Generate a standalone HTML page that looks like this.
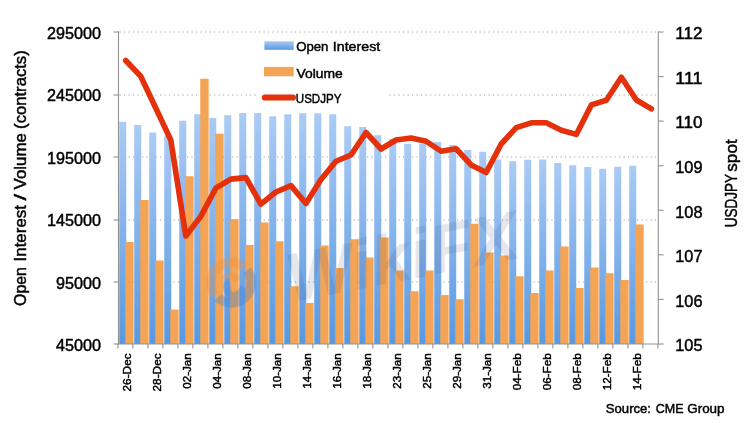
<!DOCTYPE html>
<html lang="en"><head><meta charset="utf-8"><title>USDJPY Open Interest / Volume</title>
<style>html,body{margin:0;padding:0;background:#fff;}body{width:744px;height:423px;overflow:hidden;}svg{display:block;}text{font-family:"Liberation Sans",sans-serif;fill:#000;stroke:#000;stroke-width:0.45px;}</style></head><body>
<svg width="744" height="423" viewBox="0 0 744 423">
<defs><linearGradient id="bg" x1="0" y1="0" x2="0" y2="1"><stop offset="0" stop-color="#aacbf5"/><stop offset="1" stop-color="#5898e0"/></linearGradient>
<filter id="soft" x="-5%" y="-5%" width="110%" height="110%"><feGaussianBlur stdDeviation="0.45"/></filter></defs>
<rect width="744" height="423" fill="#fff"/>
<line x1="119.5" x2="657.6" y1="32.0" y2="32.0" stroke="#a0a0a0" stroke-width="1" stroke-dasharray="1.2 3.3"/>
<line x1="119.5" x2="657.6" y1="95.0" y2="95.0" stroke="#a0a0a0" stroke-width="1" stroke-dasharray="1.2 3.3"/>
<line x1="119.5" x2="657.6" y1="157.0" y2="157.0" stroke="#a0a0a0" stroke-width="1" stroke-dasharray="1.2 3.3"/>
<line x1="119.5" x2="657.6" y1="220.0" y2="220.0" stroke="#a0a0a0" stroke-width="1" stroke-dasharray="1.2 3.3"/>
<line x1="119.5" x2="657.6" y1="282.0" y2="282.0" stroke="#a0a0a0" stroke-width="1" stroke-dasharray="1.2 3.3"/>
<g filter="url(#soft)">
<rect x="119.25" y="121.75" width="7.0" height="222.25" fill="url(#bg)"/>
<rect x="134.25" y="125.00" width="7.0" height="219.00" fill="url(#bg)"/>
<rect x="149.25" y="132.50" width="7.0" height="211.50" fill="url(#bg)"/>
<rect x="164.25" y="135.50" width="7.0" height="208.50" fill="url(#bg)"/>
<rect x="179.25" y="120.75" width="7.0" height="223.25" fill="url(#bg)"/>
<rect x="194.25" y="114.25" width="7.0" height="229.75" fill="url(#bg)"/>
<rect x="209.25" y="118.00" width="7.0" height="226.00" fill="url(#bg)"/>
<rect x="224.25" y="115.25" width="7.0" height="228.75" fill="url(#bg)"/>
<rect x="239.25" y="113.00" width="7.0" height="231.00" fill="url(#bg)"/>
<rect x="254.25" y="113.00" width="7.0" height="231.00" fill="url(#bg)"/>
<rect x="269.25" y="116.25" width="7.0" height="227.75" fill="url(#bg)"/>
<rect x="284.25" y="114.25" width="7.0" height="229.75" fill="url(#bg)"/>
<rect x="299.25" y="113.25" width="7.0" height="230.75" fill="url(#bg)"/>
<rect x="314.25" y="113.25" width="7.0" height="230.75" fill="url(#bg)"/>
<rect x="329.25" y="114.25" width="7.0" height="229.75" fill="url(#bg)"/>
<rect x="344.25" y="126.25" width="7.0" height="217.75" fill="url(#bg)"/>
<rect x="359.25" y="127.00" width="7.0" height="217.00" fill="url(#bg)"/>
<rect x="374.25" y="135.25" width="7.0" height="208.75" fill="url(#bg)"/>
<rect x="389.25" y="139.00" width="7.0" height="205.00" fill="url(#bg)"/>
<rect x="404.25" y="143.75" width="7.0" height="200.25" fill="url(#bg)"/>
<rect x="419.25" y="143.75" width="7.0" height="200.25" fill="url(#bg)"/>
<rect x="434.25" y="142.00" width="7.0" height="202.00" fill="url(#bg)"/>
<rect x="449.25" y="145.00" width="7.0" height="199.00" fill="url(#bg)"/>
<rect x="464.25" y="150.00" width="7.0" height="194.00" fill="url(#bg)"/>
<rect x="479.25" y="151.75" width="7.0" height="192.25" fill="url(#bg)"/>
<rect x="494.25" y="159.50" width="7.0" height="184.50" fill="url(#bg)"/>
<rect x="509.25" y="161.25" width="7.0" height="182.75" fill="url(#bg)"/>
<rect x="524.25" y="159.75" width="7.0" height="184.25" fill="url(#bg)"/>
<rect x="539.25" y="159.50" width="7.0" height="184.50" fill="url(#bg)"/>
<rect x="554.25" y="163.00" width="7.0" height="181.00" fill="url(#bg)"/>
<rect x="569.25" y="165.25" width="7.0" height="178.75" fill="url(#bg)"/>
<rect x="584.25" y="167.00" width="7.0" height="177.00" fill="url(#bg)"/>
<rect x="599.25" y="168.75" width="7.0" height="175.25" fill="url(#bg)"/>
<rect x="614.25" y="166.75" width="7.0" height="177.25" fill="url(#bg)"/>
<rect x="629.25" y="165.75" width="7.0" height="178.25" fill="url(#bg)"/>
<rect x="125.25" y="242.00" width="8.4" height="102.00" fill="#f4a455"/>
<rect x="140.25" y="200.00" width="8.4" height="144.00" fill="#f4a455"/>
<rect x="155.25" y="260.50" width="8.4" height="83.50" fill="#f4a455"/>
<rect x="170.25" y="309.50" width="8.4" height="34.50" fill="#f4a455"/>
<rect x="185.25" y="176.25" width="8.4" height="167.75" fill="#f4a455"/>
<rect x="200.25" y="78.75" width="8.4" height="265.25" fill="#f4a455"/>
<rect x="215.25" y="133.75" width="8.4" height="210.25" fill="#f4a455"/>
<rect x="230.25" y="219.25" width="8.4" height="124.75" fill="#f4a455"/>
<rect x="245.25" y="245.00" width="8.4" height="99.00" fill="#f4a455"/>
<rect x="260.25" y="222.50" width="8.4" height="121.50" fill="#f4a455"/>
<rect x="275.25" y="241.25" width="8.4" height="102.75" fill="#f4a455"/>
<rect x="290.25" y="286.25" width="8.4" height="57.75" fill="#f4a455"/>
<rect x="305.25" y="303.00" width="8.4" height="41.00" fill="#f4a455"/>
<rect x="320.25" y="245.50" width="8.4" height="98.50" fill="#f4a455"/>
<rect x="335.25" y="268.00" width="8.4" height="76.00" fill="#f4a455"/>
<rect x="350.25" y="239.25" width="8.4" height="104.75" fill="#f4a455"/>
<rect x="365.25" y="257.50" width="8.4" height="86.50" fill="#f4a455"/>
<rect x="380.25" y="237.50" width="8.4" height="106.50" fill="#f4a455"/>
<rect x="395.25" y="270.50" width="8.4" height="73.50" fill="#f4a455"/>
<rect x="410.25" y="291.25" width="8.4" height="52.75" fill="#f4a455"/>
<rect x="425.25" y="270.50" width="8.4" height="73.50" fill="#f4a455"/>
<rect x="440.25" y="295.00" width="8.4" height="49.00" fill="#f4a455"/>
<rect x="455.25" y="299.25" width="8.4" height="44.75" fill="#f4a455"/>
<rect x="470.25" y="223.75" width="8.4" height="120.25" fill="#f4a455"/>
<rect x="485.25" y="252.50" width="8.4" height="91.50" fill="#f4a455"/>
<rect x="500.25" y="255.50" width="8.4" height="88.50" fill="#f4a455"/>
<rect x="515.25" y="276.25" width="8.4" height="67.75" fill="#f4a455"/>
<rect x="530.25" y="293.00" width="8.4" height="51.00" fill="#f4a455"/>
<rect x="545.25" y="270.50" width="8.4" height="73.50" fill="#f4a455"/>
<rect x="560.25" y="246.50" width="8.4" height="97.50" fill="#f4a455"/>
<rect x="575.25" y="288.00" width="8.4" height="56.00" fill="#f4a455"/>
<rect x="590.25" y="267.50" width="8.4" height="76.50" fill="#f4a455"/>
<rect x="605.25" y="273.25" width="8.4" height="70.75" fill="#f4a455"/>
<rect x="620.25" y="280.00" width="8.4" height="64.00" fill="#f4a455"/>
<rect x="635.25" y="224.50" width="8.4" height="119.50" fill="#f4a455"/>
</g>
<g transform="translate(231,282.5) rotate(-11)"><g opacity="0.36" filter="url(#soft)"><path d="M-22.5,11 A25,25 0 0 1 20,-15 L12,-9.5 A15.5,15.5 0 0 0 -14,7 Z" fill="#f0923c"/><path d="M22.5,-11 A25,25 0 0 1 -20,15 L-12,9.5 A15.5,15.5 0 0 0 14,-7 Z" fill="#3f7fd0"/><path d="M-9,-6 C-2,-14 9,-10 10,-1 L3,0 C2,-4 -2,-5 -4,-2 Z" fill="#f0923c"/><path d="M-6,14 C-12,4 -8,-3 -2,-5 L-1,9 C2,11 7,9 9,4 L13,9 C8,17 -1,18 -6,14 Z" fill="#3f7fd0"/></g><text x="55" y="31" font-size="69" font-weight="bold" font-style="italic" style="fill:#4a5070;stroke:none" textLength="236" lengthAdjust="spacingAndGlyphs" opacity="0.13">WikiFX</text></g>
<g stroke="#929292" stroke-width="1.1" fill="none">
<line x1="118.5" x2="118.5" y1="31.3" y2="344.6"/>
<line x1="658.3" x2="658.3" y1="31.3" y2="344.6"/>
<line x1="117.9" x2="658.8" y1="344" y2="344"/>
<line x1="113.5" x2="118.5" y1="32.0" y2="32.0"/>
<line x1="113.5" x2="118.5" y1="95.0" y2="95.0"/>
<line x1="113.5" x2="118.5" y1="157.0" y2="157.0"/>
<line x1="113.5" x2="118.5" y1="220.0" y2="220.0"/>
<line x1="113.5" x2="118.5" y1="282.0" y2="282.0"/>
<line x1="113.5" x2="118.5" y1="344.0" y2="344.0"/>
<line x1="658.3" x2="663.6" y1="32.0" y2="32.0"/>
<line x1="658.3" x2="663.6" y1="76.6" y2="76.6"/>
<line x1="658.3" x2="663.6" y1="121.1" y2="121.1"/>
<line x1="658.3" x2="663.6" y1="165.7" y2="165.7"/>
<line x1="658.3" x2="663.6" y1="210.3" y2="210.3"/>
<line x1="658.3" x2="663.6" y1="254.8" y2="254.8"/>
<line x1="658.3" x2="663.6" y1="299.4" y2="299.4"/>
<line x1="658.3" x2="663.6" y1="344.0" y2="344.0"/>
<line x1="117.90" x2="117.90" y1="344" y2="348.6"/>
<line x1="132.90" x2="132.90" y1="344" y2="348.6"/>
<line x1="147.90" x2="147.90" y1="344" y2="348.6"/>
<line x1="162.90" x2="162.90" y1="344" y2="348.6"/>
<line x1="177.90" x2="177.90" y1="344" y2="348.6"/>
<line x1="192.90" x2="192.90" y1="344" y2="348.6"/>
<line x1="207.90" x2="207.90" y1="344" y2="348.6"/>
<line x1="222.90" x2="222.90" y1="344" y2="348.6"/>
<line x1="237.90" x2="237.90" y1="344" y2="348.6"/>
<line x1="252.90" x2="252.90" y1="344" y2="348.6"/>
<line x1="267.90" x2="267.90" y1="344" y2="348.6"/>
<line x1="282.90" x2="282.90" y1="344" y2="348.6"/>
<line x1="297.90" x2="297.90" y1="344" y2="348.6"/>
<line x1="312.90" x2="312.90" y1="344" y2="348.6"/>
<line x1="327.90" x2="327.90" y1="344" y2="348.6"/>
<line x1="342.90" x2="342.90" y1="344" y2="348.6"/>
<line x1="357.90" x2="357.90" y1="344" y2="348.6"/>
<line x1="372.90" x2="372.90" y1="344" y2="348.6"/>
<line x1="387.90" x2="387.90" y1="344" y2="348.6"/>
<line x1="402.90" x2="402.90" y1="344" y2="348.6"/>
<line x1="417.90" x2="417.90" y1="344" y2="348.6"/>
<line x1="432.90" x2="432.90" y1="344" y2="348.6"/>
<line x1="447.90" x2="447.90" y1="344" y2="348.6"/>
<line x1="462.90" x2="462.90" y1="344" y2="348.6"/>
<line x1="477.90" x2="477.90" y1="344" y2="348.6"/>
<line x1="492.90" x2="492.90" y1="344" y2="348.6"/>
<line x1="507.90" x2="507.90" y1="344" y2="348.6"/>
<line x1="522.90" x2="522.90" y1="344" y2="348.6"/>
<line x1="537.90" x2="537.90" y1="344" y2="348.6"/>
<line x1="552.90" x2="552.90" y1="344" y2="348.6"/>
<line x1="567.90" x2="567.90" y1="344" y2="348.6"/>
<line x1="582.90" x2="582.90" y1="344" y2="348.6"/>
<line x1="597.90" x2="597.90" y1="344" y2="348.6"/>
<line x1="612.90" x2="612.90" y1="344" y2="348.6"/>
<line x1="627.90" x2="627.90" y1="344" y2="348.6"/>
<line x1="642.90" x2="642.90" y1="344" y2="348.6"/>
<line x1="657.90" x2="657.90" y1="344" y2="348.6"/>
</g>
<rect x="258" y="34" width="130" height="75" fill="#fff"/>
<rect x="264.4" y="41.3" width="29.3" height="8.5" fill="url(#bg)"/>
<rect x="264" y="66.9" width="29.7" height="9.4" fill="#f4a455"/>
<line x1="264.9" x2="292.9" y1="97.5" y2="97.5" stroke="#e5300c" stroke-width="6.2" stroke-linecap="round"/>
<text x="296.2" y="51.4" font-size="13" textLength="32.2" lengthAdjust="spacingAndGlyphs">Open</text>
<text x="332.8" y="51.4" font-size="13" textLength="47.4" lengthAdjust="spacingAndGlyphs">Interest</text>
<text x="296.4" y="77.6" font-size="13" textLength="46.4" lengthAdjust="spacingAndGlyphs">Volume</text>
<text x="295.8" y="103.3" font-size="13" textLength="45.6" lengthAdjust="spacingAndGlyphs">USDJPY</text>
<polyline points="125.70,60.50 140.72,76.25 155.74,108.00 170.76,140.00 185.78,236.00 200.80,216.40 215.82,188.20 230.84,179.10 245.86,177.60 260.88,204.10 275.90,192.00 290.92,185.60 305.94,203.50 320.96,179.50 335.98,161.25 351.00,155.00 366.02,132.50 381.04,149.00 396.06,140.00 411.08,138.00 426.10,141.25 441.12,151.25 456.14,148.75 471.16,165.00 486.18,172.50 501.20,144.00 516.22,127.70 531.24,122.80 546.26,122.80 561.28,130.20 576.30,134.40 591.32,104.90 606.34,100.30 621.36,77.30 636.38,100.00 651.40,108.80" fill="none" stroke="#e5300c" stroke-width="5.6" stroke-linejoin="round" stroke-linecap="round"/>
<text x="47.1" y="39.40" font-size="16.1" textLength="54.0" lengthAdjust="spacingAndGlyphs">295000</text>
<text x="47.1" y="101.35" font-size="16.1" textLength="54.0" lengthAdjust="spacingAndGlyphs">245000</text>
<text x="47.1" y="163.90" font-size="16.1" textLength="54.0" lengthAdjust="spacingAndGlyphs">195000</text>
<text x="47.1" y="225.95" font-size="16.1" textLength="54.0" lengthAdjust="spacingAndGlyphs">145000</text>
<text x="56.1" y="289.40" font-size="16.1" textLength="45.0" lengthAdjust="spacingAndGlyphs">95000</text>
<text x="56.1" y="351.40" font-size="16.1" textLength="45.0" lengthAdjust="spacingAndGlyphs">45000</text>
<text x="675.3" y="39.2" font-size="16.1" textLength="27.2" lengthAdjust="spacingAndGlyphs">112</text>
<text x="675.3" y="83.8" font-size="16.1" textLength="27.2" lengthAdjust="spacingAndGlyphs">111</text>
<text x="675.3" y="128.3" font-size="16.1" textLength="27.2" lengthAdjust="spacingAndGlyphs">110</text>
<text x="675.3" y="172.9" font-size="16.1" textLength="27.2" lengthAdjust="spacingAndGlyphs">109</text>
<text x="675.3" y="217.5" font-size="16.1" textLength="27.2" lengthAdjust="spacingAndGlyphs">108</text>
<text x="675.3" y="262.1" font-size="16.1" textLength="27.2" lengthAdjust="spacingAndGlyphs">107</text>
<text x="675.3" y="306.6" font-size="16.1" textLength="27.2" lengthAdjust="spacingAndGlyphs">106</text>
<text x="675.3" y="351.2" font-size="16.1" textLength="27.2" lengthAdjust="spacingAndGlyphs">105</text>
<text transform="translate(131.30,391.5) rotate(-90)" font-size="11.7" textLength="38.2" lengthAdjust="spacingAndGlyphs">26-Dec</text>
<text transform="translate(161.30,391.5) rotate(-90)" font-size="11.7" textLength="38.2" lengthAdjust="spacingAndGlyphs">28-Dec</text>
<text transform="translate(191.30,388.7) rotate(-90)" font-size="11.7" textLength="35.4" lengthAdjust="spacingAndGlyphs">02-Jan</text>
<text transform="translate(221.30,388.7) rotate(-90)" font-size="11.7" textLength="35.4" lengthAdjust="spacingAndGlyphs">04-Jan</text>
<text transform="translate(251.30,388.7) rotate(-90)" font-size="11.7" textLength="35.4" lengthAdjust="spacingAndGlyphs">08-Jan</text>
<text transform="translate(281.30,388.7) rotate(-90)" font-size="11.7" textLength="35.4" lengthAdjust="spacingAndGlyphs">10-Jan</text>
<text transform="translate(311.30,388.7) rotate(-90)" font-size="11.7" textLength="35.4" lengthAdjust="spacingAndGlyphs">14-Jan</text>
<text transform="translate(341.30,388.7) rotate(-90)" font-size="11.7" textLength="35.4" lengthAdjust="spacingAndGlyphs">16-Jan</text>
<text transform="translate(371.30,388.7) rotate(-90)" font-size="11.7" textLength="35.4" lengthAdjust="spacingAndGlyphs">18-Jan</text>
<text transform="translate(401.30,388.7) rotate(-90)" font-size="11.7" textLength="35.4" lengthAdjust="spacingAndGlyphs">23-Jan</text>
<text transform="translate(431.30,388.7) rotate(-90)" font-size="11.7" textLength="35.4" lengthAdjust="spacingAndGlyphs">25-Jan</text>
<text transform="translate(461.30,388.7) rotate(-90)" font-size="11.7" textLength="35.4" lengthAdjust="spacingAndGlyphs">29-Jan</text>
<text transform="translate(491.30,388.7) rotate(-90)" font-size="11.7" textLength="35.4" lengthAdjust="spacingAndGlyphs">31-Jan</text>
<text transform="translate(521.30,390.3) rotate(-90)" font-size="11.7" textLength="37.0" lengthAdjust="spacingAndGlyphs">04-Feb</text>
<text transform="translate(551.30,390.3) rotate(-90)" font-size="11.7" textLength="37.0" lengthAdjust="spacingAndGlyphs">06-Feb</text>
<text transform="translate(581.30,390.3) rotate(-90)" font-size="11.7" textLength="37.0" lengthAdjust="spacingAndGlyphs">08-Feb</text>
<text transform="translate(611.30,390.3) rotate(-90)" font-size="11.7" textLength="37.0" lengthAdjust="spacingAndGlyphs">12-Feb</text>
<text transform="translate(641.30,390.3) rotate(-90)" font-size="11.7" textLength="37.0" lengthAdjust="spacingAndGlyphs">14-Feb</text>
<text transform="translate(26,305.9) rotate(-90)" font-size="15.8" textLength="38.8" lengthAdjust="spacingAndGlyphs">Open</text>
<text transform="translate(26,261.4) rotate(-90)" font-size="15.8" textLength="56.3" lengthAdjust="spacingAndGlyphs">Interest</text>
<text transform="translate(26,200.4) rotate(-90)" font-size="15.8" textLength="6.6" lengthAdjust="spacingAndGlyphs">/</text>
<text transform="translate(26,189.4) rotate(-90)" font-size="15.8" textLength="56.2" lengthAdjust="spacingAndGlyphs">Volume</text>
<text transform="translate(26,128.9) rotate(-90)" font-size="15.8" textLength="78.6" lengthAdjust="spacingAndGlyphs">(contracts)</text>
<text transform="translate(736.5,227.3) rotate(-90)" font-size="15.8" textLength="53.2" lengthAdjust="spacingAndGlyphs">USDJPY</text>
<text transform="translate(736.5,171.7) rotate(-90)" font-size="15.8" textLength="32.4" lengthAdjust="spacingAndGlyphs">spot</text>
<text x="605.8" y="413.3" font-size="13" textLength="45.2" lengthAdjust="spacingAndGlyphs">Source:</text>
<text x="655.8" y="413.3" font-size="13" textLength="27.8" lengthAdjust="spacingAndGlyphs">CME</text>
<text x="687.2" y="413.3" font-size="13" textLength="37.4" lengthAdjust="spacingAndGlyphs">Group</text>
</svg></body></html>
